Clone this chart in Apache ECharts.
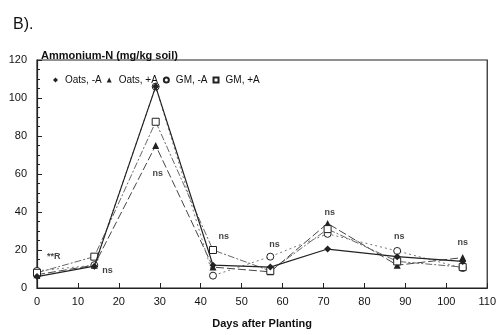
<!DOCTYPE html>
<html>
<head>
<meta charset="utf-8">
<script src="https://cdn.jsdelivr.net/npm/echarts@6/dist/echarts.min.js"></script>
<style>
  html, body { margin: 0; padding: 0; background: #fff; }
  #chart { width: 499px; height: 335px; }
</style>
</head>
<body>
<div id="chart"></div>
<script>
// Sampling days after planting
const days = [0, 14, 29, 43, 57, 71, 88, 104];

// Ammonium-N (mg/kg soil) per treatment
const oatsNoA = [6, 11.5, 106, 12, 11, 20.5, 16.5, 14];
const oatsA   = [7, 12, 75, 11, 8.5, 34, 12, 16];
const gmNoA   = [9, 12, 106, 6.5, 16.5, 28.5, 19.5, 10.5];
const gmA     = [8, 16.5, 87.5, 20, 9, 31, 14, 11];

// Significance notes: [day, value, text]
const notes = [
  [4.1, 16.5, '**R'],
  [17.2, 9, 'ns'],
  [29.5, 60.5, 'ns'],
  [45.6, 27, 'ns'],
  [58, 23, 'ns'],
  [71.5, 39.5, 'ns'],
  [88.5, 27, 'ns'],
  [104, 24, 'ns']
];

const seriesNames = ['Oats, -A', 'Oats, +A', 'GM, -A', 'GM, +A'];
const ink = '#222';

function pairs(vals) { return days.map((d, i) => [d, vals[i]]); }

const chart = echarts.init(document.getElementById('chart'));
chart.setOption({
  animation: false,
  textStyle: { fontFamily: 'Liberation Sans, Arial, sans-serif' },
  title: [
    { text: 'B).', left: 8, top: 12, textStyle: { fontSize: 16, fontWeight: 'normal', color: '#111' } },
    { text: 'Ammonium-N (mg/kg soil)', left: 36, top: 45, textStyle: { fontSize: 11, fontWeight: 'bold', color: '#111' } }
  ],
  legend: {
    left: 48, top: 70, itemGap: 5, itemWidth: 5, itemHeight: 5,
    textStyle: { fontSize: 10, color: '#111', padding: [0, 0, 0, 2] },
    data: [
      { name: seriesNames[0], icon: 'diamond' },
      { name: seriesNames[1], icon: 'triangle' },
      { name: seriesNames[2], icon: 'circle' },
      { name: seriesNames[3], icon: 'rect' }
    ]
  },
  grid: { left: 37, right: 10, top: 60, bottom: 47, show: true, borderColor: ink, borderWidth: 1.2 },
  xAxis: {
    type: 'value', min: 0, max: 110, interval: 10,
    name: 'Days after Planting', nameLocation: 'middle', nameGap: 30,
    nameTextStyle: { fontSize: 11, fontWeight: 'bold', color: '#111' },
    axisLine: { show: true, lineStyle: { color: ink, width: 1.2 } },
    axisTick: { show: true, inside: true, length: 5, lineStyle: { color: ink } },
    axisLabel: { fontSize: 11, color: '#111', margin: 8 },
    splitLine: { show: false }
  },
  yAxis: {
    type: 'value', min: 0, max: 120, interval: 20,
    axisLine: { show: true, lineStyle: { color: ink, width: 1.2 } },
    axisTick: { show: true, inside: true, length: 5, lineStyle: { color: ink } },
    minorTick: { show: true, splitNumber: 4, length: 3, lineStyle: { color: ink } },
    axisLabel: { fontSize: 11, color: '#111', margin: 10 },
    splitLine: { show: false }
  },
  series: [
    {
      name: seriesNames[0], type: 'line', data: pairs(oatsNoA), z: 5,
      symbol: 'diamond', symbolSize: 7,
      itemStyle: { color: ink },
      lineStyle: { color: ink, width: 1.2, type: 'solid' }
    },
    {
      name: seriesNames[1], type: 'line', data: pairs(oatsA),
      symbol: 'triangle', symbolSize: 7,
      itemStyle: { color: ink },
      lineStyle: { color: '#444', width: 1, type: [8, 3] }
    },
    {
      name: seriesNames[2], type: 'line', data: pairs(gmNoA),
      symbol: 'circle', symbolSize: 7,
      itemStyle: { color: '#fff', borderColor: ink, borderWidth: 1 },
      lineStyle: { color: '#777', width: 1, type: [2, 3] }
    },
    {
      name: seriesNames[3], type: 'line', data: pairs(gmA),
      symbol: 'rect', symbolSize: 7,
      itemStyle: { color: '#fff', borderColor: ink, borderWidth: 1 },
      lineStyle: { color: '#666', width: 1, type: [7, 2, 2, 2] }
    },
    {
      name: 'notes', type: 'scatter', data: notes,
      symbolSize: 0, silent: true,
      label: {
        show: true, position: 'inside', color: '#111', fontSize: 9, fontWeight: 'bold',
        formatter: p => p.value[2]
      }
    }
  ]
});
</script>
</body>
</html>
